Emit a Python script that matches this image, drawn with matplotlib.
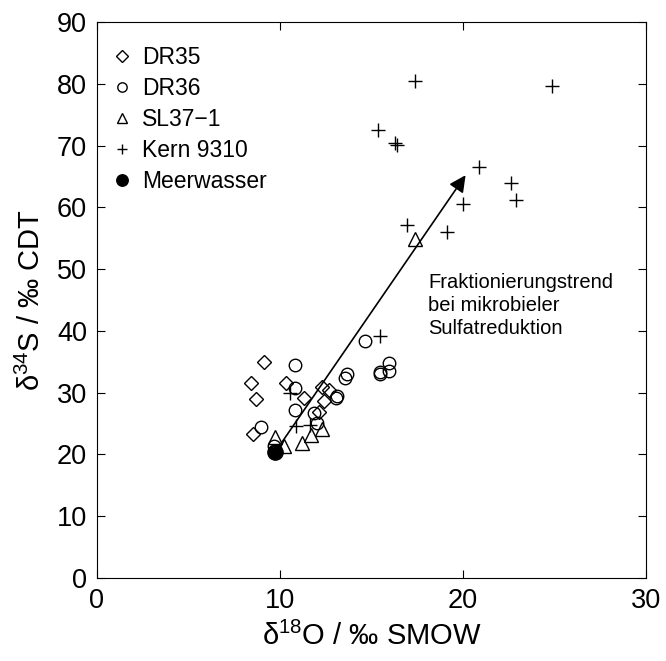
import numpy as np
import matplotlib
matplotlib.use('Agg')
import matplotlib.pyplot as plt

plt.rcParams['font.family'] = ['Liberation Sans', 'DejaVu Sans']
plt.rcParams['mathtext.fontset'] = 'custom'
plt.rcParams['mathtext.rm'] = 'Liberation Sans'
plt.rcParams['mathtext.default'] = 'regular'

# d18O / d34S Werte je Probe
dr35_o = [9.10, 8.41, 8.69, 8.50, 10.33, 11.29, 12.30, 12.66, 12.39, 12.11]
dr35_s = [34.9, 31.5, 28.9, 23.3, 31.6, 29.1, 30.9, 30.4, 28.7, 26.9]

dr36_o = [10.80, 10.84, 10.80, 8.98, 11.84, 12.03, 13.12, 13.07, 13.67, 13.57,
          14.67, 15.94, 15.94, 15.44, 15.44, 9.65]
dr36_s = [34.5, 30.8, 27.2, 24.5, 26.7, 25.1, 29.5, 29.1, 33.0, 32.3,
          38.4, 34.85, 33.55, 33.3, 33.0, 21.3]

sl37_o = [9.74, 10.2, 11.2, 11.7, 12.3, 17.37]
sl37_s = [22.9, 21.3, 21.9, 23.1, 24.1, 54.9]

kern_o = [10.56, 10.89, 11.66, 15.45, 17.37, 24.85, 15.36, 16.40, 16.31,
          20.87, 22.61, 22.92, 20.0, 16.95, 19.1]
kern_s = [29.9, 24.6, 24.8, 39.2, 80.4, 79.6, 72.5, 70.1, 70.4,
          66.6, 64.0, 61.2, 60.6, 57.1, 56.0]

meer_o = [9.74]
meer_s = [20.4]

# Fraktionierungstrend (Start, Ende)
trend_o = [9.74, 20.14]
trend_s = [20.4, 65.2]

fig = plt.figure(figsize=(6.66, 6.61), dpi=100)
ax = fig.add_axes([0.1456, 0.1256, 0.8244, 0.8411])

ax.plot(dr35_o, dr35_s, 'kD', mfc='none', ms=7.5, mew=1.0, label='DR35')
ax.plot(dr36_o, dr36_s, 'ko', mfc='none', ms=9, mew=1.0, label='DR36')
ax.plot(sl37_o, sl37_s, 'k^', mfc='none', ms=10, mew=1.0, label='SL37\u22121')
ax.plot(kern_o, kern_s, 'k+', ms=10, mew=1.0, label='Kern 9310')
ax.plot(meer_o, meer_s, 'ko', ms=11, label='Meerwasser')

ax.annotate('', xy=(trend_o[1], trend_s[1]), xytext=(trend_o[0], trend_s[0]),
            arrowprops=dict(arrowstyle='-|>', color='k', lw=1.2,
                            mutation_scale=25, shrinkA=0, shrinkB=0))
ax.text(18.1, 49.3, 'Fraktionierungstrend\nbei mikrobieler\nSulfatreduktion',
        fontsize=14.5, va='top', ha='left', linespacing=1.25)

ax.set_xlim(0, 30)
ax.set_ylim(0, 90)
ax.set_xticks([0, 10, 20, 30])
ax.set_yticks(np.arange(0, 91, 10))
ax.tick_params(direction='in', top=True, right=True, labelsize=19.5,
               length=6, pad=7)
ax.set_xlabel('δ$^{18}$O / ‰ SMOW', fontsize=21, labelpad=6)
ax.set_ylabel('δ$^{34}$S / ‰ CDT', fontsize=21, labelpad=8)

ax.legend(loc='upper left', bbox_to_anchor=(0.0, 0.989), frameon=False,
          fontsize=16.5, markerscale=0.75, handlelength=0.6,
          handletextpad=0.55, labelspacing=0.34, borderaxespad=0.5,
          borderpad=0.3, numpoints=1)

fig.savefig('out.png', dpi=100)
